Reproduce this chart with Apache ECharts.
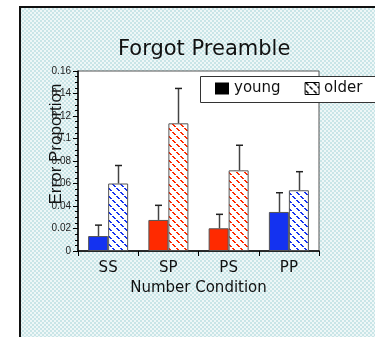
<!DOCTYPE html>
<html><head><meta charset="utf-8">
<script src="https://cdn.jsdelivr.net/npm/echarts@6/dist/echarts.min.js"></script>
<style>html,body{margin:0;padding:0;background:#fff}#c{width:375px;height:337px}</style>
</head><body><div id="c"></div>
<script>
const categories = ['SS', 'SP', 'PS', 'PP'];
const young = [0.0133, 0.0276, 0.0202, 0.0347];
const older = [0.060, 0.1135, 0.0717, 0.054];
const youngErr = [0.0097, 0.013, 0.0124, 0.0171];
const olderErr = [0.016, 0.031, 0.0223, 0.0165];
const barColors = ['#1432f0', '#ff2a00', '#ff2a00', '#1432f0'];
const yTicks = [0, 0.02, 0.04, 0.06, 0.08, 0.1, 0.12, 0.14, 0.16];

function hatch(color) {
  const c = document.createElement('canvas'); c.width = 8; c.height = 8;
  const g = c.getContext('2d');
  g.fillStyle = '#fff'; g.fillRect(0, 0, 8, 8);
  g.fillStyle = color;
  for (let i = 0; i < 8; i++) { if (i % 4 !== 3) { g.fillRect(i, i, 2, 1); } }
  return { image: c, repeat: 'repeat' };
}
function checker() {
  const c = document.createElement('canvas'); c.width = 4; c.height = 4;
  const g = c.getContext('2d');
  g.fillStyle = '#eef7f7'; g.fillRect(0, 0, 4, 4);
  g.fillStyle = '#c9e5e7'; g.fillRect(0, 0, 2, 2); g.fillRect(2, 2, 2, 2);
  return { image: c, repeat: 'repeat' };
}

const chart = echarts.init(document.getElementById('c'), null, { renderer: 'canvas' });
const errData = [];
categories.forEach((c, i) => { errData.push([i, young[i], youngErr[i], -10]); errData.push([i, older[i], olderErr[i], 10]); });

chart.setOption({
  animation: false,
  backgroundColor: 'transparent',
  graphic: [
    { type: 'rect', z: -100, silent: true, shape: { x: 0, y: 0, width: 375, height: 337 }, style: { fill: '#fff' } },
    { type: 'rect', z: -99, silent: true, shape: { x: 20, y: 7, width: 400, height: 400 }, style: { fill: checker(), stroke: '#111', lineWidth: 2 } },
    { type: 'rect', z: 50, silent: true, shape: { x: 200.5, y: 76.5, width: 200, height: 26 }, style: { fill: '#fff', stroke: '#333', lineWidth: 1 } }
  ],
  title: {
    text: 'Forgot Preamble', left: 113, top: 34,
    textStyle: { fontFamily: 'DejaVu Sans', fontSize: 21, fontWeight: 'normal', color: '#111' }
  },
  legend: {
    z: 60, left: 215, top: 81, padding: 0, itemWidth: 14, itemHeight: 12, itemGap: 24, icon: 'rect',
    textStyle: { fontFamily: 'DejaVu Sans', fontSize: 15, color: '#111' },
    data: [
      { name: 'young', itemStyle: { color: '#000', borderWidth: 0 } },
      { name: 'older', itemStyle: { color: hatch('#000'), borderColor: '#000', borderWidth: 1 } }
    ]
  },
  grid: { left: 78, top: 71, width: 241, height: 180, show: true, backgroundColor: '#fff', borderColor: '#555', borderWidth: 1 },
  xAxis: {
    type: 'category', data: categories,
    name: 'Number Condition', nameLocation: 'middle', nameGap: 30,
    nameTextStyle: { fontFamily: 'DejaVu Sans', fontSize: 15, color: '#111' },
    axisLine: { lineStyle: { color: '#000', width: 1.5 } },
    axisTick: { show: true, length: 5, lineStyle: { color: '#000' } },
    axisLabel: { fontFamily: 'DejaVu Sans', fontSize: 15, color: '#111', margin: 10 }
  },
  yAxis: {
    type: 'value', min: 0, max: 0.16, interval: 0.02,
    name: 'Error Proportion', nameLocation: 'middle', nameGap: 13, nameMoveOverlap: false,
    nameTextStyle: { fontFamily: 'Liberation Sans', fontSize: 17, color: '#111', padding: [0, 0, 0, 34] },
    axisLine: { show: true, lineStyle: { color: '#000', width: 1.5 } },
    axisTick: { show: true, length: 5, lineStyle: { color: '#000' } },
    minorTick: { show: true, splitNumber: 4, length: 3, lineStyle: { color: '#000' } },
    splitLine: { show: false },
    axisLabel: {
      fontFamily: 'Liberation Sans', fontSize: 10, color: '#222', margin: 7,
      formatter: v => { const t = yTicks.find(x => Math.abs(x - v) < 1e-9); return t === undefined ? '' : String(t); }
    }
  },
  series: [
    {
      name: 'young', type: 'bar', barWidth: 20, barGap: '0%',
      itemStyle: { color: '#000', borderColor: '#555', borderWidth: 1 },
      data: young.map((v, i) => ({ value: v, itemStyle: { color: barColors[i] } }))
    },
    {
      name: 'older', type: 'bar', barWidth: 20, barGap: '0%',
      itemStyle: { color: hatch('#000'), borderColor: '#555', borderWidth: 1 },
      data: older.map((v, i) => ({ value: v, itemStyle: { color: hatch(barColors[i]) } }))
    },
    {
      name: 'err', type: 'custom', z: 10, silent: true,
      encode: { x: 0, y: 1 },
      data: errData,
      renderItem: function (params, api) {
        const idx = api.value(0), v = api.value(1), e = api.value(2), off = api.value(3);
        const p0 = api.coord([idx, v]);
        const p1 = api.coord([idx, v + e]);
        const x = Math.round(p0[0] + off) + 0.5;
        return {
          type: 'group', children: [
            { type: 'line', shape: { x1: x, y1: p0[1], x2: x, y2: p1[1] }, style: { stroke: '#444', lineWidth: 1.5 } },
            { type: 'line', shape: { x1: x - 3.5, y1: p1[1], x2: x + 3.5, y2: p1[1] }, style: { stroke: '#222', lineWidth: 1.5 } }
          ]
        };
      }
    }
  ]
});
</script></body></html>
